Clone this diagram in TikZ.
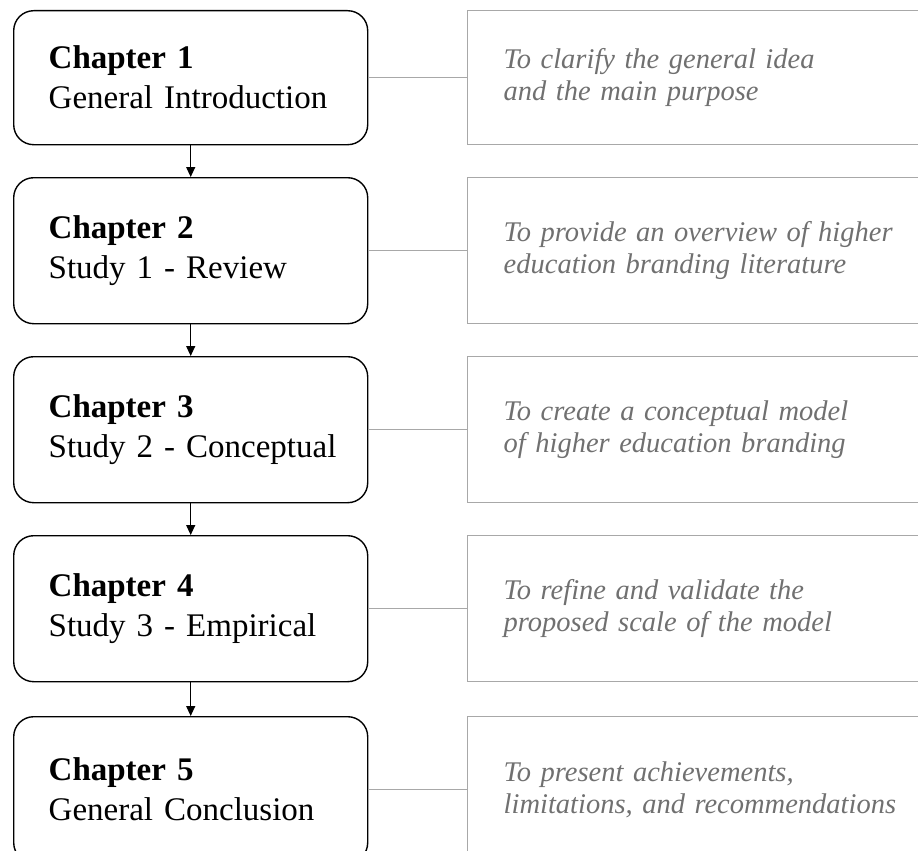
\documentclass[tikz,border=0pt]{standalone}
\usepackage{fontspec}
\setmainfont{Liberation Serif}
\usetikzlibrary{arrows.meta}
\definecolor{frameGray}{RGB}{168,168,168}
\definecolor{noteGray}{RGB}{112,112,112}
\begin{document}
\begin{tikzpicture}[x=1pt,y=-1pt,
  chapbox/.style={draw=black, line width=1.4pt, rounded corners=20pt,
    anchor=north west, text width=284pt, inner xsep=35pt, inner ysep=0pt,
    align=left, font=\fontsize{33}{40}\selectfont,
    minimum height=146pt},
  aimbox/.style={draw=frameGray, line width=1.4pt, anchor=north west,
    text width=430pt, inner xsep=36pt, inner ysep=0pt, align=left,
    text=noteGray, font=\fontsize{28.5}{32}\selectfont\itshape,
    minimum height=146pt},
  link/.style={draw=frameGray, line width=1.4pt},
  flow/.style={draw=black, line width=1.2pt, -{Triangle[length=10pt,width=9pt]}}]

\useasboundingbox (0,0) rectangle (918,851);
\clip (0,0) rectangle (918,851);

% chapter boxes
\node[chapbox, minimum height=134pt] (c1) at (13,10)  {\textbf{Chapter 1}\\\mbox{General Introduction}};
\node[chapbox] (c2) at (13,177) {\textbf{Chapter 2}\\\mbox{Study 1 - Review}};
\node[chapbox] (c3) at (13,356) {\textbf{Chapter 3}\\\mbox{Study 2 - Conceptual}};
\node[chapbox] (c4) at (13,535) {\textbf{Chapter 4}\\\mbox{Study 3 - Empirical}};
\node[chapbox] (c5) at (13,716) {\textbf{Chapter 5}\\\mbox{General Conclusion}};

% aim boxes
\node[aimbox, minimum height=134pt] (a1) at (467,10)  {To clarify the general idea\\and the main purpose};
\node[aimbox] (a2) at (467,177) {To provide an overview of higher\\education branding literature};
\node[aimbox] (a3) at (467,356) {To create a conceptual model\\of higher education branding};
\node[aimbox] (a4) at (467,535) {To refine and validate the\\proposed scale of the model};
\node[aimbox] (a5) at (467,716) {To present achievements,\\limitations, and recommendations};

% sequence arrows
\draw[flow] (c1.south) -- (c2.north);
\draw[flow] (c2.south) -- (c3.north);
\draw[flow] (c3.south) -- (c4.north);
\draw[flow] (c4.south) -- (c5.north);

% side links
\foreach \i in {1,...,5}
  \draw[link] (c\i.east) -- (a\i.west);
\end{tikzpicture}
\end{document}
